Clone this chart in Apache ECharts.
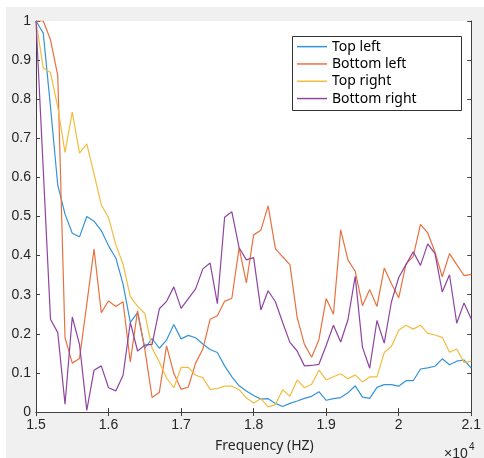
<!DOCTYPE html>
<html>
<head>
    <meta charset="utf-8">
    <title>Frequency response</title>
    <script type="text/javascript" src="https://cdn.jsdelivr.net/npm/echarts@6/dist/echarts.min.js"></script>
    <style>
        body { margin: 0; background: #fff; }
    </style>
</head>
<body>
    <div id="main" style="width: 484px;height:458px;"></div>
    <script type="text/javascript">
        // frequency grid, 100 Hz steps from 15 kHz to 21 kHz
        var freq = [];
        for (var k = 0; k <= 60; k++) freq.push(15000 + 100 * k);

        var seriesNames = ['Top left', 'Bottom left', 'Top right', 'Bottom right'];

        var topLeft = [1.0, 0.969, 0.78, 0.58, 0.506, 0.457, 0.448, 0.50, 0.488, 0.464,
            0.425, 0.394, 0.327, 0.229, 0.254, 0.163, 0.188, 0.163, 0.184, 0.224,
            0.187, 0.196, 0.19, 0.174, 0.16, 0.152, 0.118, 0.09, 0.067, 0.054,
            0.042, 0.033, 0.034, 0.022, 0.014, 0.022, 0.028, 0.035, 0.04, 0.052,
            0.03, 0.034, 0.037, 0.049, 0.067, 0.038, 0.035, 0.063, 0.07, 0.07,
            0.066, 0.08, 0.08, 0.11, 0.113, 0.117, 0.136, 0.121, 0.13, 0.133,
            0.112];
        var bottomLeft = [1.0, 1.0, 0.952, 0.861, 0.19, 0.125, 0.137, 0.276, 0.417, 0.254,
            0.284, 0.27, 0.282, 0.128, 0.259, 0.16, 0.037, 0.05, 0.169, 0.099,
            0.058, 0.064, 0.125, 0.161, 0.237, 0.246, 0.283, 0.291, 0.42, 0.33,
            0.453, 0.465, 0.527, 0.418, 0.397, 0.377, 0.242, 0.173, 0.14, 0.185,
            0.29, 0.25, 0.466, 0.389, 0.36, 0.272, 0.313, 0.27, 0.368, 0.328,
            0.292, 0.378, 0.398, 0.48, 0.458, 0.409, 0.346, 0.405, 0.377, 0.349,
            0.352];
        var topRight = [1.0, 0.88, 0.868, 0.78, 0.664, 0.767, 0.662, 0.686, 0.609, 0.53,
            0.497, 0.428, 0.378, 0.295, 0.27, 0.252, 0.163, 0.128, 0.087, 0.062,
            0.114, 0.114, 0.094, 0.088, 0.058, 0.06, 0.066, 0.066, 0.057, 0.036,
            0.023, 0.034, 0.013, 0.019, 0.057, 0.04, 0.082, 0.062, 0.071, 0.107,
            0.082, 0.09, 0.098, 0.085, 0.095, 0.077, 0.09, 0.09, 0.152, 0.168,
            0.209, 0.222, 0.212, 0.222, 0.201, 0.197, 0.191, 0.153, 0.161, 0.127,
            0.129];
        var bottomRight = [1.0, 0.62, 0.237, 0.203, 0.02, 0.243, 0.173, 0.004, 0.107, 0.118,
            0.062, 0.054, 0.094, 0.229, 0.156, 0.171, 0.173, 0.264, 0.283, 0.32,
            0.265, 0.29, 0.315, 0.366, 0.381, 0.277, 0.498, 0.512, 0.42, 0.389,
            0.395, 0.261, 0.31, 0.282, 0.229, 0.178, 0.156, 0.118, 0.119, 0.122,
            0.17, 0.222, 0.179, 0.236, 0.347, 0.166, 0.112, 0.234, 0.176, 0.282,
            0.344, 0.377, 0.41, 0.375, 0.43, 0.405, 0.307, 0.351, 0.227, 0.279,
            0.238];

        var colors = ['#3593d8', '#e8713f', '#f2bc3f', '#8e44a0'];
        var axisColor = '#404040';
        var tickFont = "'Liberation Sans', Arial, sans-serif";
        var textFont = "'Noto Sans', 'Open Sans', sans-serif";

        function pairs(values) {
            return values.map(function (v, i) { return [freq[i], v]; });
        }

        var allValues = [topLeft, bottomLeft, topRight, bottomRight];

        var xBase = {
            type: 'value', min: 15000, max: 21000, interval: 1000,
            axisLine: { show: true, lineStyle: { color: axisColor, width: 1 } },
            axisTick: { show: true, inside: true, length: 4, lineStyle: { color: axisColor } },
            splitLine: { show: false }
        };
        var yBase = {
            type: 'value', min: 0, max: 1, interval: 0.1,
            axisLine: { show: true, lineStyle: { color: axisColor, width: 1 } },
            axisTick: { show: true, inside: true, length: 4, lineStyle: { color: axisColor } },
            splitLine: { show: false }
        };

        var option = {
            animation: false,
            color: colors,
            graphic: {
                elements: [
                    { type: 'rect', z: -10, shape: { x: 6, y: 7, width: 478, height: 451 },
                      style: { fill: '#f0f0f0' } },
                    { type: 'rect', z: 50, shape: { x: 292.5, y: 36.5, width: 169, height: 74 },
                      style: { fill: '#ffffff', stroke: '#333333', lineWidth: 1 } },
                    { type: 'text', z: 50, left: 215, top: 439,
                      style: { text: 'Frequency (HZ)', fill: '#262626', font: '14px ' + textFont } },
                    { type: 'text', z: 50, left: 444, top: 447,
                      style: { text: '\u00d710', fill: '#262626', font: '14px ' + tickFont } },
                    { type: 'text', z: 50, left: 469, top: 442,
                      style: { text: '4', fill: '#262626', font: '10px ' + tickFont } }
                ]
            },
            grid: {
                left: 36, right: 10, top: 21, bottom: 46,
                show: true, backgroundColor: '#ffffff', borderWidth: 0
            },
            legend: {
                z: 60,
                orient: 'vertical',
                left: 297, top: 38,
                padding: 0,
                icon: 'rect',
                itemWidth: 30, itemHeight: 1.5, itemGap: 0,
                data: seriesNames,
                textStyle: { fontSize: 14, lineHeight: 17.3, color: '#000', fontFamily: textFont }
            },
            xAxis: [
                Object.assign({}, xBase, {
                    position: 'bottom',
                    axisLabel: {
                        margin: 6, fontSize: 14, color: '#262626', fontFamily: tickFont,
                        formatter: function (v) { return String(v / 10000); }
                    }
                }),
                Object.assign({}, xBase, { position: 'top', axisLabel: { show: false } })
            ],
            yAxis: [
                Object.assign({}, yBase, {
                    position: 'left',
                    axisLabel: { margin: 5, fontSize: 14, color: '#262626', fontFamily: tickFont }
                }),
                Object.assign({}, yBase, { position: 'right', axisLabel: { show: false } })
            ],
            series: seriesNames.map(function (name, i) {
                return {
                    name: name,
                    type: 'line',
                    xAxisIndex: 0,
                    yAxisIndex: 0,
                    symbol: 'none',
                    lineStyle: { width: 1.2, color: colors[i] },
                    data: pairs(allValues[i])
                };
            })
        };

        echarts.init(document.getElementById('main')).setOption(option);
    </script>
</body>
</html>
